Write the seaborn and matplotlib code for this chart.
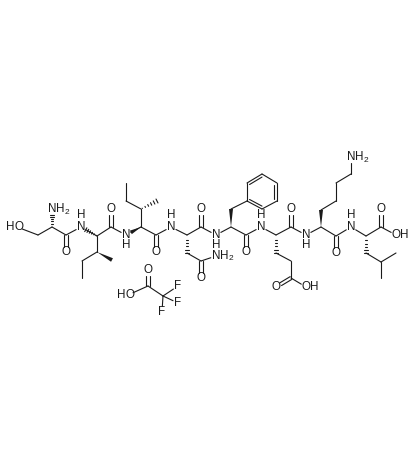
import matplotlib
matplotlib.use("Agg")
import matplotlib.pyplot as plt
import numpy as np
import pandas as pd
import seaborn as sns

# atom positions
atoms = {
    "O1": (17, 227), "c1": (38, 235), "a1": (52, 227), "N1": (52, 209), "k1": (66, 235), "Ok1": (66, 252),
    "N2": (81, 227), "a2": (97, 236), "b2": (97, 252), "m2": (112, 260), "g2": (82, 261), "d2": (82, 278),
    "k2": (111, 227), "Ok2": (111, 209),
    "N3": (126, 235), "a3": (141, 227), "b3": (141, 209), "m3": (157, 201), "g3": (126, 201), "d3": (126, 183),
    "k3": (156, 235), "Ok3": (156, 252),
    "N4": (171, 227), "a4": (187, 235), "b4": (187, 253), "g4": (201, 261), "N4s": (216, 256), "O4s": (201, 278),
    "k4": (201, 227), "Ok4": (201, 209),
    "N5": (216, 235), "a5": (231, 227), "b5": (231, 209),
    "r1": (247, 201), "r2": (247, 183), "r3": (262, 174), "r4": (277, 183), "r5": (277, 201), "r6": (262, 209),
    "k5": (246, 235), "Ok5": (246, 252),
    "N6": (261, 227), "a6": (276, 235), "b6": (276, 253), "g6": (291, 261), "d6": (291, 278),
    "O6a": (276, 287), "O6b": (306, 287),
    "k6": (291, 227), "Ok6": (291, 209),
    "N7": (306, 235), "a7": (321, 227), "b7": (321, 210), "g7": (336, 201), "d7": (336, 183), "e7": (351, 174),
    "N7s": (351, 157), "k7": (336, 236), "Ok7": (336, 253),
    "N8": (351, 227), "a8": (366, 236), "b8": (366, 253), "g8": (381, 262), "m8a": (396, 253), "m8b": (381, 278),
    "k8": (381, 227), "Ok8": (381, 209), "O8": (396, 235),
    "ct": (148, 286), "Ot": (148, 270), "Oh": (128, 295), "cf": (163, 296),
    "F1": (178, 286), "F2": (178, 303), "F3": (162, 312),
}

single_bonds = [
    ("O1", "c1"), ("c1", "a1"), ("a1", "k1"), ("k1", "N2"), ("N2", "a2"), ("a2", "k2"), ("a2", "b2"), ("b2", "g2"),
    ("g2", "d2"), ("k2", "N3"), ("N3", "a3"), ("a3", "b3"), ("b3", "g3"), ("g3", "d3"), ("a3", "k3"), ("k3", "N4"),
    ("N4", "a4"), ("a4", "k4"), ("b4", "g4"), ("g4", "N4s"), ("k4", "N5"), ("N5", "a5"), ("a5", "k5"), ("b5", "r1"),
    ("r1", "r2"), ("r2", "r3"), ("r3", "r4"), ("r4", "r5"), ("r5", "r6"), ("r6", "r1"), ("k5", "N6"), ("N6", "a6"),
    ("a6", "k6"), ("b6", "g6"), ("g6", "d6"), ("d6", "O6b"), ("k6", "N7"), ("N7", "a7"), ("a7", "k7"), ("b7", "g7"),
    ("g7", "d7"), ("d7", "e7"), ("e7", "N7s"), ("k7", "N8"), ("N8", "a8"), ("a8", "k8"), ("k8", "O8"), ("b8", "g8"),
    ("g8", "m8a"), ("g8", "m8b"), ("ct", "Oh"), ("ct", "cf"), ("cf", "F1"), ("cf", "F2"), ("cf", "F3"),
]
double_bonds = [
    ("k1", "Ok1"), ("k2", "Ok2"), ("k3", "Ok3"), ("k4", "Ok4"), ("g4", "O4s"), ("k5", "Ok5"), ("k6", "Ok6"),
    ("d6", "O6a"), ("k7", "Ok7"), ("k8", "Ok8"), ("ct", "Ot"),
]
ring_inner = [("r2", "r3"), ("r4", "r5"), ("r6", "r1")]
ring_centre = ("r1", "r4")
wedges = [("b2", "m2"), ("a3", "N3"), ("a5", "b5"), ("a7", "b7")]
hashes = [("a1", "N1"), ("a2", "N2"), ("b3", "m3"), ("a4", "b4"), ("a6", "b6"), ("a8", "b8")]

# (anchor atom, symbol, where the H goes)
labels = [
    ("O1", "HO", "left"), ("N1", "NH2", "right"), ("N2", "NH", "up"), ("N3", "NH", "down"), ("N4", "NH", "up"),
    ("N5", "NH", "down"), ("N6", "NH", "up"), ("N7", "NH", "down"), ("N8", "NH", "up"), ("N4s", "NH2", "right"),
    ("N7s", "NH2", "right"), ("O8", "OH", "right"), ("O6b", "OH", "right"), ("Oh", "HO", "left"),
    ("Ok1", "O", ""), ("Ok2", "O", ""), ("Ok3", "O", ""), ("Ok4", "O", ""), ("O4s", "O", ""), ("Ok5", "O", ""),
    ("Ok6", "O", ""), ("O6a", "O", ""), ("Ok7", "O", ""), ("Ok8", "O", ""), ("Ot", "O", ""),
    ("F1", "F", ""), ("F2", "F", ""), ("F3", "F", ""),
]

ink = "#1a1a1a"
gap = 5.5
hetero = {a[0] for a in labels}


def ends(p, q):
    return np.array(atoms[p], float), np.array(atoms[q], float)


def trimmed(a, b):
    p, q = ends(a, b)
    u = (q - p) / np.linalg.norm(q - p)
    if a in hetero:
        p = p + u * gap
    if b in hetero:
        q = q - u * gap
    return p, q


segments = []


def add(p, q):
    n = len(segments) // 2
    segments.append((n, p[0], p[1]))
    segments.append((n, q[0], q[1]))


for a, b in single_bonds:
    add(*trimmed(a, b))
for a, b in double_bonds:
    p, q = trimmed(a, b)
    u = (q - p) / np.linalg.norm(q - p)
    nrm = np.array([-u[1], u[0]]) * 1.6
    add(p + nrm, q + nrm)
    add(p - nrm, q - nrm)

# inner lines of the benzene ring
centre = (np.array(atoms[ring_centre[0]], float) + np.array(atoms[ring_centre[1]], float)) / 2
for a, b in ring_inner:
    p, q = ends(a, b)
    add(p + (centre - p) * 0.17, q + (centre - q) * 0.17)

# hashed stereo bonds, short strokes growing towards the far atom
for a, b in hashes:
    p, q = trimmed(a, b)
    u = (q - p) / np.linalg.norm(q - p)
    nrm = np.array([-u[1], u[0]])
    for t in np.linspace(0.08, 1, 6):
        c = p + (q - p) * t
        add(c + nrm * 2.2 * t, c - nrm * 2.2 * t)

bond_df = pd.DataFrame(segments, columns=["bond", "x", "y"])

sns.set_style("white")
plt.rcParams["font.family"] = ["Liberation Sans", "DejaVu Sans"]
fig, ax = plt.subplots(figsize=(4.18, 4.70), dpi=100)
fig.subplots_adjust(0, 0, 1, 1)

sns.lineplot(data=bond_df, x="x", y="y", units="bond", estimator=None, sort=False,
             color=ink, linewidth=0.8, legend=False, ax=ax)

for a, b in wedges:
    p, q = trimmed(a, b)
    u = (q - p) / np.linalg.norm(q - p)
    nrm = np.array([-u[1], u[0]]) * 2.0
    tri = np.array([p, q + nrm, q - nrm])
    ax.fill(tri[:, 0], tri[:, 1], color=ink, linewidth=0)

fs = 8.4
txt = dict(fontsize=fs, color=ink, ha="center", va="center")
for name, sym, where in labels:
    x, y = atoms[name]
    if sym == "NH":
        ax.text(x, y, "N", **txt)
        ax.text(x, y - 12 if where == "up" else y + 10.5, "H", **txt)
    elif sym == "NH2":
        ax.text(x, y, "N", **txt)
        ax.text(x + 8.5, y, "H", **txt)
        ax.text(x + 15, y + 3, "2", fontsize=6, color=ink, ha="center", va="center")
    elif sym == "OH":
        ax.text(x, y, "O", **txt)
        ax.text(x + 8.5, y, "H", **txt)
    elif sym == "HO":
        ax.text(x + 2, y, "O", **txt)
        ax.text(x - 6.5, y, "H", **txt)
    else:
        ax.text(x, y, sym, **txt)

ax.set_xlim(0, 418)
ax.set_ylim(470, 0)
ax.set_axis_off()
fig.savefig("out.png", dpi=100)
